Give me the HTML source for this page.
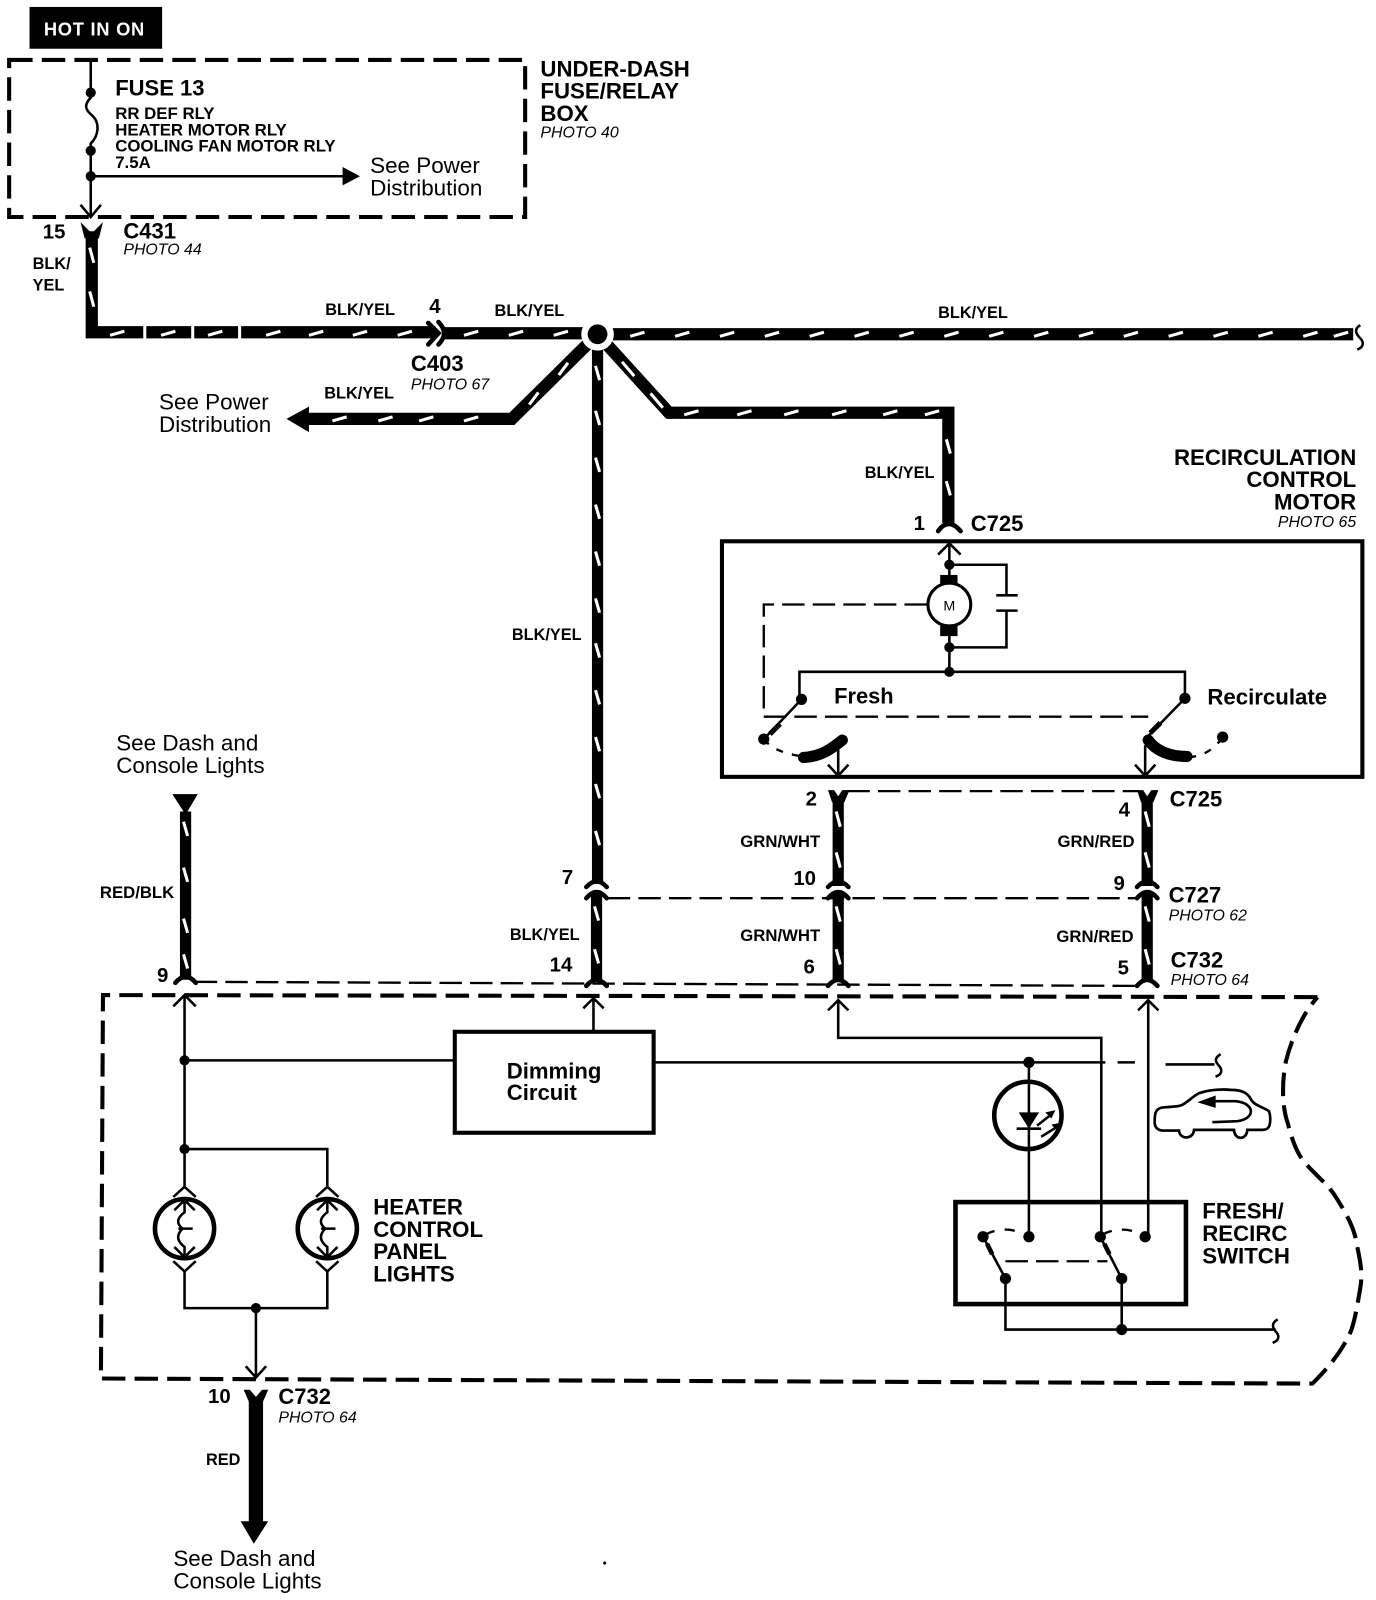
<!DOCTYPE html>
<html><head><meta charset="utf-8"><style>
html,body{margin:0;padding:0;background:#fff}
svg{display:block}
text{font-family:"Liberation Sans",sans-serif;fill:#000}
.b{font-weight:bold}
.l{font-weight:bold;font-size:16px}
.g{font-weight:bold;font-size:16.4px}
.h{font-weight:bold;font-size:21.8px}
.c{font-weight:bold;font-size:21.6px}
.p{font-style:italic;font-size:15.6px}
.n{font-size:22px}
.u{font-weight:bold;font-size:20px}
.f{font-weight:bold;font-size:16.5px}
.t{fill:none;stroke:#000;stroke-width:2.5}
.d{fill:none;stroke:#000;stroke-width:4;stroke-dasharray:23 9}
.e{fill:none;stroke:#000;stroke-width:2.3;stroke-dasharray:22 8}
.w{fill:none;stroke:#000;stroke-width:12}
.v{fill:none;stroke:#000;stroke-width:11}
.s{fill:none;stroke:#fff;stroke-width:3}
.k{fill:none;stroke:#000;stroke-width:4.5;stroke-linecap:round}
</style></head><body>
<svg width="1376" height="1600" viewBox="-0.8 -0.8 1349 1569" xmlns="http://www.w3.org/2000/svg">
<rect x="-1" y="-1" width="1351" height="1571" fill="#fff"/>
<rect x="28" y="6" width="130" height="41" fill="#000"/>
<text x="42" y="34" font-size="18" letter-spacing="0.7" style="fill:#fff" class="b">HOT IN ON</text>

<!-- fuse box -->
<rect x="8" y="58" width="506" height="154" class="d"/>
<path class="t" d="M88 58V95C80 103 84 108 90 113C97 120 96 132 88 140V212M88 172H340"/>
<path d="M335 163L352 172L335 181Z"/>
<path class="t" d="M78 200L88 212L98 200"/>
<circle cx="88" cy="90" r="5"/><circle cx="88" cy="147" r="5"/><circle cx="88" cy="172" r="5"/>
<text x="112" y="93" class="c">FUSE 13</text>
<text x="112" y="116" class="f">RR DEF RLY</text>
<text x="112" y="132" class="f">HEATER MOTOR RLY</text>
<text x="112" y="148" class="f">COOLING FAN MOTOR RLY</text>
<text x="112" y="164" class="f">7.5A</text>
<text x="362" y="169" class="n">See Power</text>
<text x="362" y="191" class="n">Distribution</text>
<text x="529" y="74" class="h">UNDER-DASH</text>
<text x="529" y="96" class="h">FUSE/RELAY</text>
<text x="529" y="118" class="h">BOX</text>
<text x="529" y="134" class="p">PHOTO 40</text>

<!-- main wires -->
<path class="w" d="M89 226V325H426"/>
<path d="M78 217L89 228L100 217L96 233H82Z"/>
<path class="k" d="M419 316L429 326L419 337"/>
<path class="k" d="M429 315Q440 326 429 337"/>
<path class="w" d="M435 326H585"/>
<path class="w" d="M585 327H1326"/>
<path class="w" d="M585 327L501 410H296"/>
<path d="M302 398L280 410L302 423Z"/>
<path class="w" d="M585 327L655 404H929V512"/>
<path class="v" d="M585 327V866"/>
<circle cx="585" cy="327" r="16" fill="#fff"/>
<circle cx="585" cy="327" r="9.7"/>
<path class="t" d="M1333 318C1326 322 1329 327 1333 331C1337 335 1336 340 1330 342"/>
<path d="M141 318V332M188 318V332M234 318V332" stroke="#fff" stroke-width="3"/>
<path class="s" d="M107 328l14-4M157 328l14-4M203 328l14-4M260 328l14-4M302 328l14-4M345 328l14-4M389 328l14-4M454 328l14-4M498 328l14-4M542 328l14-4"/>
<path class="s" d="M617 329l14-4M661 329l14-4M705 329l14-4M749 329l14-4M793 329l14-4M837 329l14-4M881 329l14-4M925 329l14-4M969 329l14-4M1013 329l14-4M1057 329l14-4M1101 329l14-4M1145 329l14-4M1189 329l14-4M1233 329l14-4M1277 329l14-4M1307 329l14-4"/>
<path class="s" d="M87 242l4 15M87 285l4 15"/>
<text x="41" y="233" class="u">15</text>
<text x="120" y="233" class="c">C431</text>
<text x="120" y="249" class="p">PHOTO 44</text>
<text x="31" y="263" class="l">BLK/</text>
<text x="31" y="284" class="l">YEL</text>
<text x="318" y="308" class="l">BLK/YEL</text>
<text x="420" y="306" class="u">4</text>
<text x="484" y="309" class="l">BLK/YEL</text>
<text x="919" y="311" class="l">BLK/YEL</text>
<text x="402" y="363" class="c">C403</text>
<text x="402" y="381" class="p">PHOTO 67</text>

<path class="s" d="M410 412l14-4M454 412l14-4M325 412l14-4M370 412l14-4M518 396l9-12M547 367l9-12"/>
<path class="s" d="M609 354l12 14M637 385l12 14"/>
<path class="s" d="M670 406l14-4M722 406l14-4M768 406l14-4M815 406l14-4M865 406l14-4M906 406l14-4"/>
<path class="s" d="M927 430l4 14M927 471l4 14"/>
<path class="s" d="M583 358l4 14M583 402l4 14M583 448l4 14M583 494l4 14M583 540l4 14M583 586l4 14M583 630l4 14M583 676l4 14M583 722l4 14M583 768l4 14M583 814l4 14"/>
<text x="155" y="401" class="n">See Power</text>
<text x="155" y="423" class="n">Distribution</text>
<text x="317" y="390" class="l">BLK/YEL</text>
<text x="847" y="468" class="l">BLK/YEL</text>
<text x="501" y="627" class="l">BLK/YEL</text>

<!-- motor -->
<text x="895" y="519" class="u">1</text>
<text x="951" y="520" class="c">C725</text>
<path class="k" d="M919 520Q929 506 941 520"/>
<text x="1329" y="455" class="h" text-anchor="end">RECIRCULATION</text>
<text x="1329" y="477" class="h" text-anchor="end">CONTROL</text>
<text x="1329" y="499" class="h" text-anchor="end">MOTOR</text>
<text x="1329" y="516" class="p" text-anchor="end">PHOTO 65</text>
<rect x="707" y="530" width="628" height="231" fill="none" stroke="#000" stroke-width="4"/>
<path class="t" d="M930 532V655M919 543L930 532L941 543"/>
<path class="t" d="M930 553H986V583M976 583H997M976 598H997M986 598V634H930"/>
<rect x="921" y="563" width="17" height="10"/><rect x="921" y="612" width="17" height="11"/>
<circle cx="930" cy="592" r="21" fill="#fff" stroke="#000" stroke-width="3"/>
<text x="930" y="598" text-anchor="middle" font-size="14">M</text>
<circle cx="930" cy="553" r="5"/><circle cx="930" cy="634" r="5"/><circle cx="930" cy="658" r="5"/>
<path class="e" d="M908 592H748V702H1125"/>
<path class="t" d="M783 685V658H1161V684"/>
<circle cx="785" cy="685" r="5.5"/><circle cx="1161" cy="684" r="5.5"/>
<circle cx="748" cy="724" r="5.5"/><circle cx="1198" cy="722" r="5.5"/>
<path class="t" d="M785 685L748 724M1161 684L1122 724"/>
<path d="M764 709L754 719M1137 708L1127 718" stroke="#000" stroke-width="5"/>
<path fill="none" stroke="#000" stroke-width="2.3" stroke-dasharray="7 9" d="M748 724C758 736 770 738 790 742M1165 742C1180 740 1190 734 1198 722"/>
<path fill="none" stroke="#000" stroke-width="11" stroke-linecap="round" d="M787 742C805 741 815 733 825 725M1125 725C1132 735 1145 741 1163 741"/>
<path class="t" d="M821 732V760M811 749L821 760L831 749M1122 730V760M1112 749L1122 760L1132 749"/>
<text x="817" y="689" class="b" font-size="21.4">Fresh</text>
<text x="1183" y="690" class="b" font-size="21.8">Recirculate</text>

<!-- GRN wires -->
<path class="v" d="M821 780V868M821 876V962M1124 780V868M1124 876V962M584 876V962M181 795V960"/>
<path d="M811 774L817 774L821 780L825 774L832 774L827 786H815Z M1114 774L1120 774L1124 780L1128 774L1135 774L1130 786H1118Z"/>
<path class="k" d="M574 869Q584 858 594 869M574 880Q584 868 594 880M811 869Q821 858 831 869M811 880Q821 868 831 880M1114 869Q1124 858 1134 869M1114 880Q1124 868 1134 880"/>
<path class="k" d="M574 966Q584 954 594 966M811 966Q821 954 831 966M1114 966Q1124 954 1134 966M171 963Q181 951 191 963"/>
<path d="M168 778H193L181 798Z"/>
<path class="s" d="M819 795l4 15M819 835l4 15M819 888l4 15M819 930l4 15M1122 795l4 15M1122 835l4 15M1122 888l4 15M1122 930l4 15M582 888l4 14M582 930l4 14M179 805l4 14M179 850l4 14M179 900l4 14M179 935l4 14"/>
<path class="e" d="M830 775H1116M595 880H1116M190 962L1116 966"/>
<text x="789" y="789" class="u">2</text>
<text x="1096" y="800" class="u">4</text>
<text x="1146" y="790" class="c">C725</text>
<text x="777" y="867" class="u">10</text>
<text x="1091" y="872" class="u">9</text>
<text x="550" y="866" class="u">7</text>
<text x="1145" y="884" class="c">C727</text>
<text x="1145" y="902" class="p">PHOTO 62</text>
<text x="725" y="830" class="g">GRN/WHT</text>
<text x="1036" y="830" class="g">GRN/RED</text>
<text x="725" y="922" class="g">GRN/WHT</text>
<text x="1035" y="923" class="g">GRN/RED</text>
<text x="499" y="921" class="l">BLK/YEL</text>
<text x="538" y="952" class="u">14</text>
<text x="787" y="954" class="u">6</text>
<text x="1095" y="955" class="u">5</text>
<text x="1147" y="948" class="c">C732</text>
<text x="1147" y="965" class="p">PHOTO 64</text>
<text x="153" y="962" class="u">9</text>
<text x="97" y="880" class="g">RED/BLK</text>
<text x="113" y="735" class="n">See Dash and</text>
<text x="113" y="757" class="n">Console Lights</text>

<!-- big dashed box -->
<path class="d" d="M1291 977L100 975L98 1351L1286 1356C1300 1342 1315 1325 1324 1304C1328 1292 1330 1280 1333 1262C1335 1250 1334 1240 1330 1222C1328 1205 1320 1190 1307 1170C1300 1160 1290 1152 1279 1140C1272 1132 1266 1118 1262 1101C1256 1085 1256 1060 1260 1040C1265 1020 1275 995 1291 977"/>
<path class="t" d="M180 975V1165M169 986L180 975L191 986M180 1039H445"/>
<circle cx="180" cy="1039" r="5"/><circle cx="180" cy="1126" r="5"/>
<path class="t" d="M180 1126H320V1165"/>
<path class="t" d="M169 1173L180 1163L191 1173M309 1173L320 1163L331 1173M169 1236L180 1246L191 1236M309 1236L320 1246L331 1236"/>
<path class="t" d="M180 1246V1282H320V1246M250 1282V1350M240 1339L250 1350L260 1339"/>
<circle cx="250" cy="1282" r="5"/>
<g fill="none" stroke="#000">
<circle cx="180" cy="1204" r="29" stroke-width="4.5"/>
<circle cx="320" cy="1204" r="29" stroke-width="4.5"/>
<path stroke-width="2.5" d="M180 1176V1188C172 1194 172 1199 178 1204C172 1210 172 1216 180 1222V1232M170 1186L180 1176L190 1186M170 1222L180 1232L190 1222M174 1204H188"/>
<path stroke-width="2.5" d="M320 1176V1188C312 1194 312 1199 318 1204C312 1210 312 1216 320 1222V1232M310 1186L320 1176L330 1186M310 1222L320 1232L330 1222M314 1204H328"/>
</g>
<text x="365" y="1190" class="h">HEATER</text>
<text x="365" y="1212" class="h">CONTROL</text>
<text x="365" y="1234" class="h">PANEL</text>
<text x="365" y="1256" class="h">LIGHTS</text>

<!-- dimming -->
<rect x="445" y="1011" width="195" height="99" fill="#fff" stroke="#000" stroke-width="4"/>
<text x="496" y="1057" class="b" font-size="21.7">Dimming</text>
<text x="496" y="1078" class="b" font-size="21.7">Circuit</text>
<path class="t" d="M581 978V1011M571 988L581 978L591 988"/>
<path class="t" d="M640 1041H1083M1095 1041H1112M1142 1043H1190"/>
<path class="t" d="M1196 1033C1189 1037 1191 1041 1195 1045C1198 1049 1197 1053 1191 1055"/>
<circle cx="1008" cy="1041" r="5.5"/>
<circle cx="1007" cy="1093" r="33" fill="none" stroke="#000" stroke-width="4.5"/>
<path class="t" d="M1008 1041V1212"/>
<path d="M998 1090H1018L1008 1106Z"/>
<path d="M996 1106H1020" stroke="#000" stroke-width="2.5"/>
<path class="t" d="M1016 1103L1030 1092M1020 1114L1036 1104"/>
<path d="M1034 1088L1024 1090L1030 1096Z M1040 1100L1030 1102L1036 1108Z"/>
<path class="t" d="M821 980V1017H1079V1212M811 990L821 980L831 990"/>
<path class="t" d="M1125 980V1212M1115 990L1125 980L1135 990"/>

<!-- car -->
<g transform="translate(1107.8 1029.4) scale(.3268)">
<path fill="none" stroke="#000" stroke-width="8" d="M90 172C110 168 135 170 150 165C175 155 190 130 215 125C245 116 280 116 300 118C330 118 350 125 360 145C370 165 395 168 415 182C420 195 420 215 416 226C412 236 405 238 395 238H350C348 270 312 270 310 238H190C188 268 147 268 145 240H95C80 238 72 230 72 215C72 195 72 178 90 172Z"/>
<path fill="none" stroke="#000" stroke-width="8" d="M250 152H315C375 158 375 205 320 212L245 215"/>
<path d="M200 155L255 135L255 172Z"/>
</g>

<!-- switch -->
<rect x="936" y="1178" width="226" height="100" fill="none" stroke="#000" stroke-width="4.5"/>
<path class="t" d="M963 1212L985 1253M1078 1212L1099 1253M985 1253V1303H1250M1099 1253V1303"/>
<path class="t" d="M1252 1293C1245 1297 1247 1302 1251 1306C1254 1310 1253 1314 1247 1316"/>
<path d="M967 1219L972 1229M1082 1219L1087 1229" stroke="#000" stroke-width="4.5"/>
<path fill="none" stroke="#000" stroke-width="2.3" stroke-dasharray="10 10" d="M965 1210C978 1203 995 1203 1006 1212M1080 1210C1092 1203 1110 1203 1120 1212"/>
<path class="e" d="M985 1236H1085"/>
<circle cx="963" cy="1212" r="5.5"/><circle cx="1008" cy="1212" r="5.5"/><circle cx="1078" cy="1212" r="5.5"/><circle cx="1122" cy="1212" r="5.5"/><circle cx="985" cy="1253" r="5.5"/><circle cx="1099" cy="1253" r="5.5"/><circle cx="1099" cy="1303" r="5.5"/>
<text x="1178" y="1194" class="h">FRESH/</text>
<text x="1178" y="1216" class="h">RECIRC</text>
<text x="1178" y="1238" class="h">SWITCH</text>

<!-- bottom -->
<path d="M238 1362L244 1362L250 1369L256 1362L262 1362L256 1376H244Z"/>
<path d="M243 1372H257V1492H243Z"/>
<path d="M235 1491H262L248 1513Z"/>
<text x="203" y="1375" class="u">10</text>
<text x="272" y="1376" class="c">C732</text>
<text x="272" y="1394" class="p">PHOTO 64</text>
<text x="201" y="1436" class="l">RED</text>
<text x="169" y="1535" class="n">See Dash and</text>
<text x="169" y="1557" class="n">Console Lights</text>
<circle cx="592" cy="1532" r="1.5"/>
</svg>
</body></html>
